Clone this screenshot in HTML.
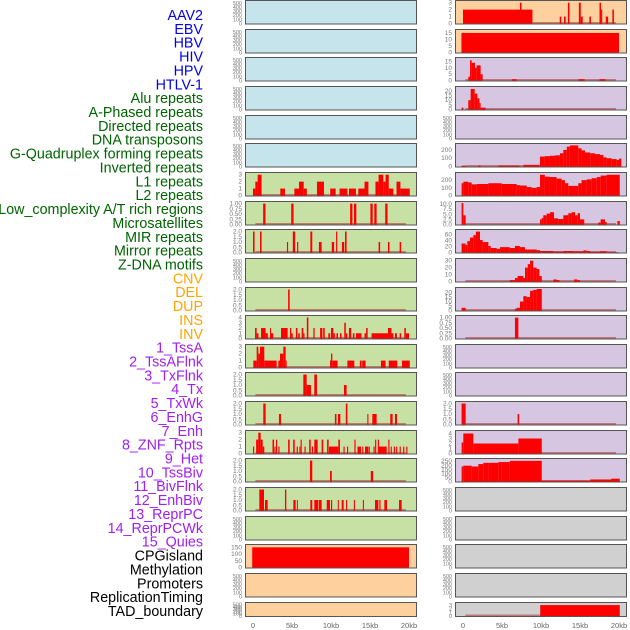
<!DOCTYPE html>
<html><head><meta charset="utf-8"><style>
body{margin:0;background:#fff}
svg{display:block;font-family:"Liberation Sans",sans-serif}
</style></head><body>
<svg id="chart" width="630" height="630" viewBox="0 0 630 630" xmlns="http://www.w3.org/2000/svg"></svg>
<script>
const labels = ["AAV2","EBV","HBV","HIV","HPV","HTLV-1","Alu repeats","A-Phased repeats","Directed repeats","DNA transposons","G-Quadruplex forming repeats","Inverted repeats","L1 repeats","L2 repeats","Low_complexity A/T rich regions","Microsatellites","MIR repeats","Mirror repeats","Z-DNA motifs","CNV","DEL","DUP","INS","INV","1_TssA","2_TssAFlnk","3_TxFlnk","4_Tx","5_TxWk","6_EnhG","7_Enh","8_ZNF_Rpts","9_Het","10_TssBiv","11_BivFlnk","12_EnhBiv","13_ReprPC","14_ReprPCWk","15_Quies","CPGisland","Methylation","Promoters","ReplicationTiming","TAD_boundary"];
const labelColors = ["#0000ee","#0000ee","#0000ee","#0000ee","#0000ee","#0000ee","#006400","#006400","#006400","#006400","#006400","#006400","#006400","#006400","#006400","#006400","#006400","#006400","#006400","#ffa500","#ffa500","#ffa500","#ffa500","#ffa500","#a020f0","#a020f0","#a020f0","#a020f0","#a020f0","#a020f0","#a020f0","#a020f0","#a020f0","#a020f0","#a020f0","#a020f0","#a020f0","#a020f0","#a020f0","#000","#000","#000","#000","#000"];
const xTicks = [0,5,10,15,20];
const xTickLabels = ["0","5kb","10kb","15kb","20kb"];
const emptyTicks = ["0","100","200","300","400","500"];
const t3 = ["0","1","2","3"];
const t4 = ["0","1","2","3","4"];
const t1 = ["0.00","0.25","0.50","0.75","1.00"];
const t2 = ["0.0","0.5","1.0","1.5","2.0"];

const L6 = [[0,0.3,1],[0.3,0.6,2],[0.6,1.1,3],[3.5,4.1,1],[5.3,5.9,1],[5.9,6.5,2],[6.5,6.9,1],[8.2,9.1,2],[9.9,10.6,1],[11.1,12.1,1],[12.3,13.2,1],[13.5,14.3,1],[14.3,14.8,2],[15.7,16.1,2],[16.1,16.7,3],[16.7,17,2],[17,17.4,3],[17.4,18,1],[18.4,18.9,2],[18.9,20.1,1]];
const L7 = [[1.3,1.6,1],[4.9,5.2,1],[12.45,12.75,1],[12.95,13.25,1],[15.05,15.35,1],[15.55,15.85,1],[16.95,17.25,1]];
const L8 = [[0,0.2,2],[0.9,1.1,2],[4.35,4.5,1],[5.1,5.4,2],[5.65,5.8,1],[7.35,7.6,2],[8.45,8.8,1],[10.1,10.4,1],[10.65,10.8,2],[11.4,11.7,1],[11.8,12.0,2],[16.1,16.3,1],[17.3,17.5,1],[18.8,19.0,1]];
const L10 = [[4.5,4.7,2]];
const L11 = [[0.26,0.47,2],[0.47,0.7,1],[1.03,1.62,2],[1.62,1.9,1],[2.18,2.3,2],[2.3,2.6,1],[3.59,4.44,2],[4.74,4.9,2],[4.9,5.1,1],[5.5,5.7,2],[5.8,6.0,1],[6.24,6.45,2],[6.45,6.6,1],[6.9,7.1,4],[7.74,7.9,2],[8.6,8.9,2],[9.0,9.2,2],[9.66,9.9,1],[10.0,10.3,2],[10.3,10.5,1],[10.7,10.9,1],[11.15,11.35,1],[11.7,11.9,3],[11.9,12.1,1],[12.3,12.6,2],[12.8,13.0,1],[13.2,13.9,1],[14.3,14.5,1],[14.5,14.7,2],[15.2,17.3,1],[17.3,17.75,2],[17.75,18.0,1],[18.2,18.45,1],[18.8,19.0,1],[19.4,19.6,2],[19.6,20.0,1]];
const L12 = [[0.04,0.47,1],[0.47,0.68,3],[0.68,0.9,2],[0.9,1.45,3],[1.45,3.03,1],[3.25,3.46,1],[3.46,3.89,2],[3.89,4.19,3],[4.19,4.32,1],[9.87,10.0,1],[10.0,10.17,2],[10.17,10.85,1],[12.1,12.99,1],[13.7,13.93,1],[14.0,14.44,1],[16.4,17.0,1],[17.4,18.5,1],[19.1,20.1,1]];
const L13 = [[6.45,6.88,2],[6.88,7.44,1],[7.86,8.2,2],[11.66,12.0,1]];
const L14 = [[1.32,1.62,2],[3.33,3.59,1],[10.5,10.7,1],[10.9,11.2,1],[11.9,12.1,2],[14.66,14.8,1],[15.3,15.85,1],[17.6,17.9,1],[18.2,18.46,1]];
const L15 = [[0,0.15,1],[0.4,0.68,2],[0.68,0.98,3],[0.98,1.24,2],[1.24,1.45,1],[2.5,2.7,2],[2.75,2.9,1],[2.95,3.1,2],[3.25,3.4,1],[4.5,4.7,2],[5.15,5.35,2],[5.6,5.75,1],[5.95,6.05,1],[6.1,6.25,2],[6.6,6.75,1],[7.2,7.4,2],[7.55,7.7,1],[7.86,8.29,2],[8.8,9.0,2],[9.5,9.7,2],[9.74,10.94,1],[10.94,11.15,2],[11.6,11.75,1],[12.05,12.2,1],[13.0,13.15,2],[13.4,13.85,1],[14.0,14.15,1],[14.36,14.8,1],[14.85,14.95,1],[15.45,15.6,1],[15.65,15.8,2],[16.0,16.15,2],[16.15,17.14,1],[17.35,17.5,2],[17.65,17.8,1],[18.05,18.2,1],[18.35,18.5,1],[18.8,18.95,1],[19.25,19.4,1],[19.65,19.8,1]];
const L16 = [[7.3,7.6,2],[9.87,10.1,1],[15.1,15.4,1]];
const L17 = [[0.81,1.41,2],[1.54,1.88,1],[4.1,4.27,2],[5.17,5.47,1],[5.62,5.75,1],[7.35,7.6,1],[7.86,8.38,1],[8.46,8.8,1],[9.45,9.87,1],[10.0,10.15,1],[10.87,11.0,1],[11.37,11.62,1],[11.93,12.07,1],[12.93,13.07,1],[14.08,14.22,1],[15.64,16.07,1],[16.2,16.35,1],[16.84,17.18,1],[18.72,19.06,1]];
const L19 = [[-0.1,20.0,150]];

const R0 = [[0,8.9,2],[7.3,7.5,3],[12.4,12.6,1],[12.95,13.16,1],[13.45,13.65,3],[14.85,15.1,3],[15.1,15.35,1],[16.2,16.4,1],[17.5,17.7,3],[17.7,17.85,2],[18.3,18.6,1],[19.15,19.35,2]];
const R1 = [[-0.2,20,15]];
const R2 = [[0.68,0.9,3],[0.9,1.11,16],[1.11,1.54,14],[1.54,1.75,10],[1.75,2.26,12],[2.26,2.52,5],[6.28,6.88,1],[14.8,15.6,1],[17.5,18.25,1]];
const R3 = [[-0.17,0.05,2],[0.68,0.98,10],[0.98,1.5,22],[1.5,1.84,17],[1.84,2.1,12],[2.1,2.26,7],[2.26,2.9,2]];
const R5 = [[-0.18,0.34,10],[1.97,2.26,10],[4.53,7.22,10],[7.74,9.79,20],[9.87,10.5,120],[10.5,11.15,125],[11.15,11.8,130],[11.8,12.43,135],[12.43,12.86,160],[12.86,13.3,200],[13.3,13.7,240],[13.7,14.78,255],[14.78,15.2,220],[15.2,15.64,195],[15.64,16.3,170],[16.3,16.92,160],[16.92,17.56,150],[17.56,18.0,140],[18.0,18.42,110],[18.42,19.06,100],[19.06,19.7,90],[19.7,20.0,80],[20.0,20.3,95]];
const R6 = [[-0.18,0.04,160],[0.04,0.68,180],[0.68,1.11,170],[1.11,1.75,145],[1.75,3.25,150],[3.25,4.96,160],[4.96,6.88,150],[6.88,7.3,135],[7.3,8.16,130],[8.16,8.8,110],[8.8,9.44,100],[9.44,9.87,110],[9.87,10.5,270],[10.5,11.15,245],[11.15,12.0,240],[12.0,12.65,220],[12.65,13.07,200],[13.07,13.5,160],[13.5,14.78,125],[14.78,15.2,160],[15.2,15.85,200],[15.85,16.5,210],[16.5,17.14,225],[17.14,17.65,240],[17.65,18.42,260],[18.42,20.1,270]];
const R7 = [[-0.18,0.04,10.5],[0.04,0.34,4.5],[9.87,10.1,2.5],[10.1,10.3,3.2],[10.3,10.73,4.5],[10.73,11.15,5.3],[11.15,11.67,6],[11.67,12.2,3],[12.2,12.86,2.7],[12.86,13.5,4.5],[13.5,13.93,5.5],[13.93,14.36,6],[14.36,14.7,4.5],[14.7,15.0,5.5],[15.0,15.55,2.5],[17.35,17.65,1],[17.65,18.2,2.5],[18.2,18.42,1.2],[19.8,20.1,1.7]];
const R8 = [[-0.18,0.34,30],[0.34,0.55,25],[0.55,0.9,38],[0.9,1.33,50],[1.33,1.66,58],[1.66,2.18,70],[2.18,2.52,42],[2.52,3.25,35],[3.25,3.55,22],[3.55,4.32,15],[4.32,4.75,12],[4.75,5.38,18],[5.38,6.0,18],[6.0,6.66,15],[6.66,7.3,22],[7.3,7.95,18],[7.95,8.6,10],[8.6,9.44,10],[9.44,9.87,8],[9.87,11.6,5],[11.6,12.86,3],[12.86,14.15,5],[14.15,15.43,4],[15.43,15.85,7],[15.85,16.3,5],[16.3,17.56,2],[17.56,18.42,4],[18.42,19.9,1]];
const R9 = [[6.0,6.66,2],[6.66,7.0,5],[7.0,7.74,8],[7.74,7.95,5],[7.95,8.3,20],[8.3,8.6,25],[8.6,9.0,30],[9.0,9.44,20],[9.44,9.79,18],[9.79,10.1,8],[11.6,12.0,3],[12.0,12.35,2],[14.23,14.66,3],[14.66,15.0,2]];
const R10 = [[-0.18,0.34,3],[6.66,6.88,2],[6.88,7.3,3],[7.3,7.74,10],[7.74,8.16,16],[8.16,8.6,15],[8.6,9.0,22],[9.0,9.44,23],[9.44,10.1,24]];
const R11 = [[6.66,7.1,1]];
const R14 = [[-0.18,0.34,2],[7.0,7.2,1]];
const R15 = [[-0.18,0.04,2.2],[0.04,1.33,4],[1.33,7.1,2],[7.1,10.1,3]];
const R16 = [[-0.18,0.04,185],[0.04,1.11,195],[1.11,1.97,185],[1.97,2.6,215],[2.6,3.25,230],[3.25,4.53,230],[4.53,4.96,240],[4.96,6.0,240],[6.0,10.1,255],[10.1,16.3,10],[16.3,19.0,25],[19.0,20.1,35]];
const R21 = [[9.9,20.1,3]];

const BLUE="#c6e4eb",GREEN="#c7e1a5",ORANGE="#fed09d",PURPLE="#d6c6e2",GRAY="#d0d0d0";
const leftPanels = [
 [BLUE,null,520,emptyTicks],[BLUE,null,520,emptyTicks],[BLUE,null,520,emptyTicks],[BLUE,null,520,emptyTicks],[BLUE,null,520,emptyTicks],[BLUE,null,520,emptyTicks],
 [GREEN,L6,3.1,t3],[GREEN,L7,1.03,t1],[GREEN,L8,2.05,t2],[GREEN,null,520,emptyTicks],[GREEN,L10,2.05,t2],
 [GREEN,L11,4.1,t4],[GREEN,L12,3.1,t3],[GREEN,L13,2.05,t2],[GREEN,L14,2.05,t2],[GREEN,L15,3.1,t3],
 [GREEN,L16,2.05,t2],[GREEN,L17,2.05,t2],[GREEN,null,520,emptyTicks],
 [ORANGE,L19,160,["0","50","100","150"]],[ORANGE,null,520,emptyTicks],[ORANGE,null,520,emptyTicks]];
const rightPanels = [
 [ORANGE,R0,3.1,t3],[ORANGE,R1,16.5,["0","5","10","15"]],[PURPLE,R2,17,["0","5","10","15"]],[PURPLE,R3,23,["0","5","10","15","20"]],[PURPLE,null,520,emptyTicks],
 [PURPLE,R5,260,["0","100","200"]],[PURPLE,R6,280,["0","100","200"]],[PURPLE,R7,10.5,["0.0","2.5","5.0","7.5","10.0"]],[PURPLE,R8,72,["0","20","40","60"]],[PURPLE,R9,31,["0","10","20","30"]],
 [PURPLE,R10,24,["0","5","10","15","20"]],[PURPLE,R11,1.03,t1],[PURPLE,null,520,emptyTicks],[PURPLE,null,520,emptyTicks],[PURPLE,R14,2.05,t2],
 [PURPLE,R15,4.3,t4],[PURPLE,R16,265,["0","50","100","150","200","250"]],[GRAY,null,520,emptyTicks],[GRAY,null,520,emptyTicks],[GRAY,null,520,emptyTicks],[GRAY,null,520,emptyTicks],[GRAY,R21,3.3,t3]];

const svg=document.getElementById('chart');
const NS="http://www.w3.org/2000/svg";
function mk(tag,attrs,parent){const e=document.createElementNS(NS,tag);for(const k in attrs)e.setAttribute(k,attrs[k]);(parent||svg).appendChild(e);return e;}

labels.forEach((t,i)=>{
  const e=mk('text',{x:203,y:15+i*13.86+5,'text-anchor':'end','font-size':14.3,fill:labelColors[i]});
  e.textContent=t;
  
  
});

function drawCol(panels,x0,x1,z0,side){
  const xs=kb=>z0+kb*7.8;
  panels.forEach((p,i)=>{
    const top=Math.round(i*28.65), h=(i===21)?15:24.5, bot=top+h;
    const g=mk('g',{});
    
    
    mk('rect',{x:x0,y:top,width:x1-x0,height:h,fill:p[0]},g);
    const ys=v=>bot-1-v/p[2]*(h-3);
    p[3].forEach(t=>{
      const tt=mk('text',{x:x0-3,y:ys(parseFloat(t))+2,'text-anchor':'end','font-size':(p[3]===emptyTicks||i===21)?5.5:6.5,fill:'#777'},g);
      tt.textContent=t;
      
      
    });
    if(p[1]){
      mk('rect',{x:xs(0.3),y:ys(0)-1.5,width:xs(19.6)-xs(0.3),height:2,fill:'#b03030',opacity:0.55},g);
      p[1].forEach(s=>{
        const a=Math.max(xs(s[0]),x0+1), b=Math.min(xs(s[1]),x1-1);
        const r=mk('rect',{x:a,y:ys(s[2]),width:Math.max(b-a,1),height:ys(0)-ys(s[2]),fill:'#ff0000'},g);
        
        
      });
    }
    mk('rect',{x:x0+0.5,y:top+0.5,width:x1-x0-1,height:h-1,fill:'none',stroke:'#555','stroke-width':1},g);
  });
  xTicks.forEach((t,k)=>{
    const e=mk('text',{x:xs(t),y:628,'text-anchor':'middle','font-size':7.5,fill:'#666'});
    e.textContent=xTickLabels[k];
    
    
  });
}
drawCol(leftPanels,245,417,253,'left');
drawCol(rightPanels,455,627,463,'right');
</script>
</body></html>
